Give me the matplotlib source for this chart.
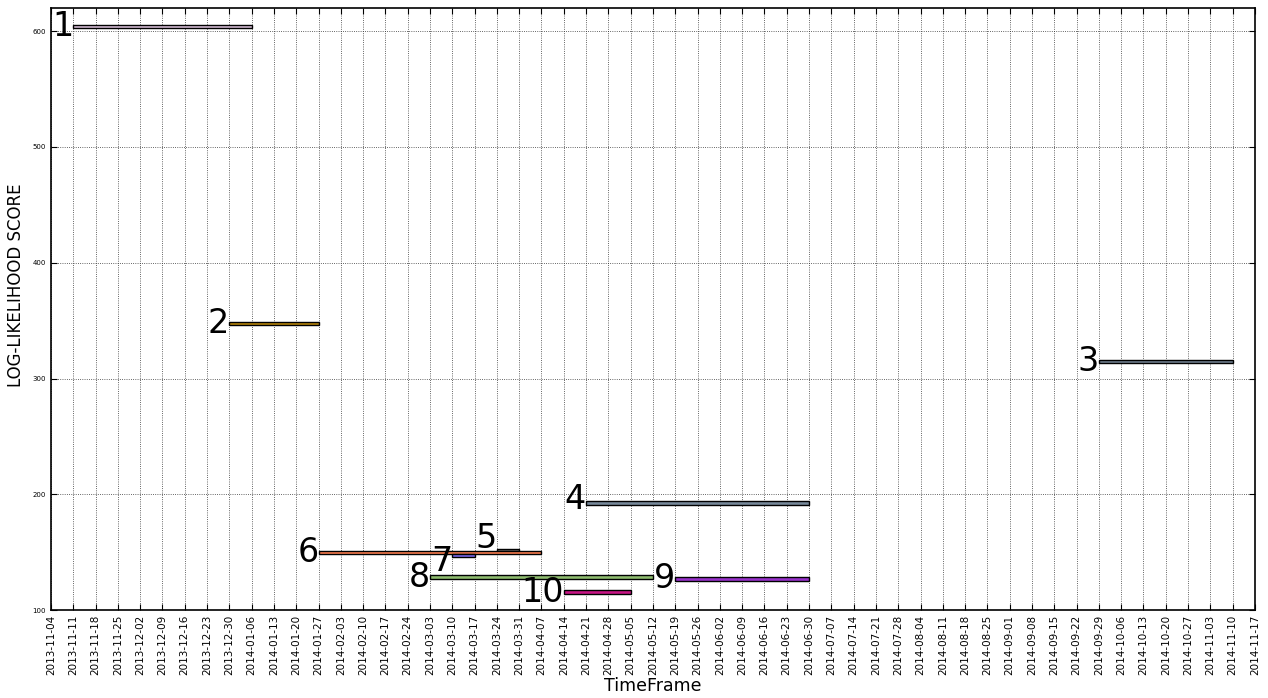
import matplotlib
matplotlib.use('Agg')
import matplotlib.pyplot as plt
import matplotlib.dates as mdates
import pandas as pd

# one row per segment: label, first week, last week, log-likelihood score
labels = ['1', '2', '3', '4', '5', '6', '7', '8', '9', '10']
starts = ['2013-11-11', '2013-12-30', '2014-09-29', '2014-04-21', '2014-03-24',
          '2014-01-27', '2014-03-10', '2014-03-03', '2014-05-19', '2014-04-14']
ends = ['2014-01-06', '2014-01-27', '2014-11-10', '2014-06-30', '2014-03-31',
        '2014-04-07', '2014-03-17', '2014-05-12', '2014-06-30', '2014-05-05']
scores = [604.0, 347.5, 314.5, 192.5, 151.5, 149.5, 147.0, 128.5, 127.0, 115.5]
colors = ['thistle', 'darkgoldenrod', 'slategray', 'lightslategray', 'dimgray',
          'coral', 'mediumslateblue', '#8fbc6f', 'darkorchid', 'mediumvioletred']
# nudge a few labels so they don't sit on top of each other
label_dy = [0, 0, 0, 3, 10, 0, -5, 0, 0, 0]

week_ticks = pd.date_range('2013-11-04', '2014-11-17', freq='7D')

fig = plt.figure(figsize=(12.68, 6.98), dpi=100)
ax = fig.add_axes([0.0402, 0.126, 0.9495, 0.8625])

for lab, s, e, sc, c, dy in zip(labels, starts, ends, scores, colors, label_dy):
    s = mdates.date2num(pd.Timestamp(s))
    e = mdates.date2num(pd.Timestamp(e))
    ax.barh(sc, e - s, left=s, height=3, color=c, edgecolor='black', linewidth=1)
    ax.text(s, sc + dy, lab, fontsize=24, ha='right', va='center')

ax.set_xlim(mdates.date2num(week_ticks[0]), mdates.date2num(week_ticks[-1]))
ax.set_ylim(100, 620)
ax.set_xticks(mdates.date2num(week_ticks))
ax.set_xticklabels([d.strftime('%Y-%m-%d') for d in week_ticks], rotation=90, fontsize=7.5)
ax.set_yticks([100, 200, 300, 400, 500, 600])
ax.tick_params(axis='y', labelsize=5)
ax.tick_params(direction='in', top=True, right=True, length=4)
ax.grid(True, color='#333333', linestyle=':', linewidth=0.6)
ax.set_axisbelow(True)
for sp in ax.spines.values():
    sp.set_linewidth(1.2)

ax.set_xlabel('TimeFrame', fontsize=12.5)
ax.xaxis.set_label_coords(0.5, -0.111)
ax.set_ylabel('LOG-LIKELIHOOD SCORE', fontsize=12)
ax.yaxis.set_label_coords(-0.0216, 0.54)

fig.savefig('out.png', dpi=100, facecolor='white')
